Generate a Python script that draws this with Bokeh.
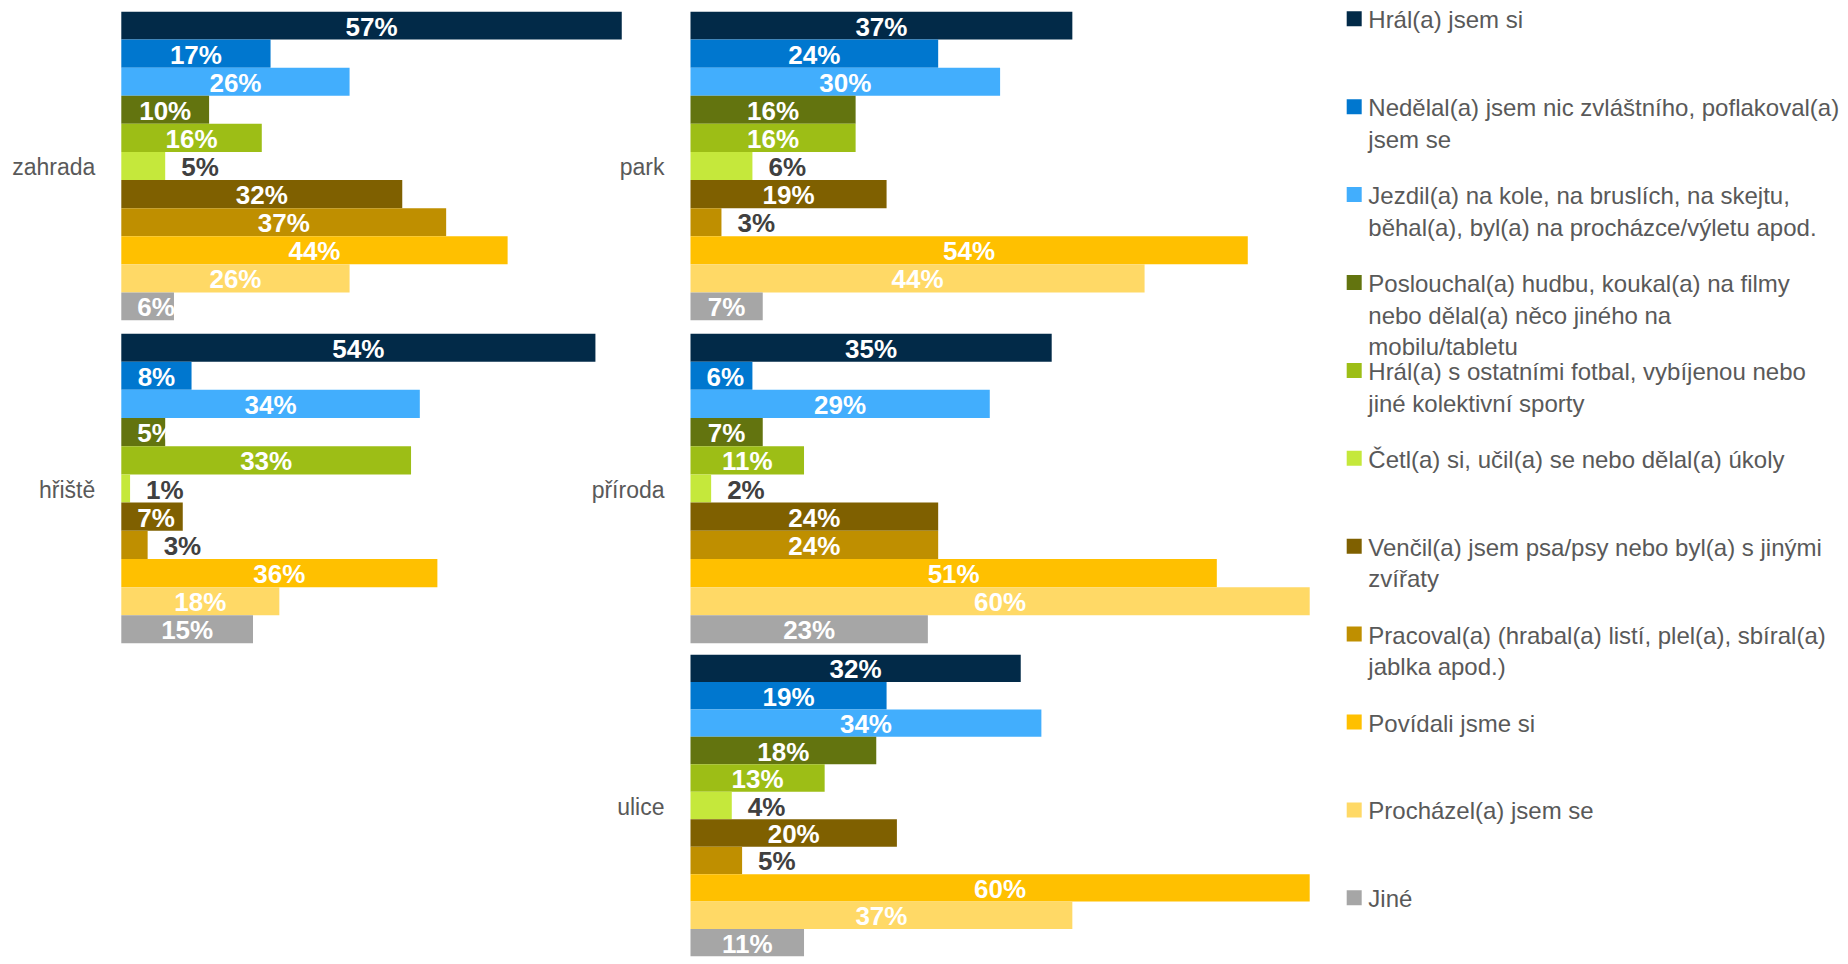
from bokeh.plotting import figure
from bokeh.layouts import row, column
from bokeh.models import ColumnDataSource, Range1d, FactorRange
from bokeh.embed import file_html
from bokeh.resources import INLINE
from bokeh.core.properties import value

# ---------------- data ----------------
activities = [
    "Hrál(a) jsem si",
    "Nedělal(a) jsem nic zvláštního, poflakoval(a)\njsem se",
    "Jezdil(a) na kole, na bruslích, na skejtu,\nběhal(a), byl(a) na procházce/výletu apod.",
    "Poslouchal(a) hudbu, koukal(a) na filmy\nnebo dělal(a) něco jiného na\nmobilu/tabletu",
    "Hrál(a) s ostatními fotbal, vybíjenou nebo\njiné kolektivní sporty",
    "Četl(a) si, učil(a) se nebo dělal(a) úkoly",
    "Venčil(a) jsem psa/psy nebo byl(a) s jinými\nzvířaty",
    "Pracoval(a) (hrabal(a) listí, plel(a), sbíral(a)\njablka apod.)",
    "Povídali jsme si",
    "Procházel(a) jsem se",
    "Jiné",
]
colors = ["#022A48", "#0077CF", "#42AEFD", "#63740F", "#9DBE16", "#C5E83B",
          "#7F6000", "#BF8F00", "#FFC000", "#FFD966", "#A6A6A6"]

places = ["zahrada", "hřiště", "park", "příroda", "ulice"]
zahrada = [57, 17, 26, 10, 16, 5, 32, 37, 44, 26, 6]
hriste = [54, 8, 34, 5, 33, 1, 7, 3, 36, 18, 15]
park = [37, 24, 30, 16, 16, 6, 19, 3, 54, 44, 7]
priroda = [35, 6, 29, 7, 11, 2, 24, 24, 51, 60, 23]
ulice = [32, 19, 34, 18, 13, 4, 20, 5, 60, 37, 11]

# series whose small values are labelled outside the bar end
outside_series = [activities[5], activities[7]]
outside_below = 10

FONT = "Liberation Sans"
GRAY = "#595959"
DARK = "#404040"
NUM_SIZE = 26

ROW_W = 1330
LEFT_START, LEFT_SCALE = 120.8, 8.78     # px of bar origin, px per percent
RIGHT_START, RIGHT_SCALE = 690.0, 10.32


def label_width(lbl):
    return NUM_SIZE * (0.556 * (len(lbl) - 1) + 0.889)


def draw_panel(p, place, vals, scale, range_name):
    kw = {} if range_name is None else {"x_range_name": range_name}
    src = ColumnDataSource(dict(y=activities, v=vals, c=colors))
    p.hbar(y="y", left=0, right="v", height=1.0, fill_color="c", line_color=None,
           source=src, **kw)
    ins = dict(x=[], y=[], t=[])
    out = dict(x=[], y=[], t=[])
    for a, v in zip(activities, vals):
        lbl = f"{v}%"
        if a in outside_series and v < outside_below:
            out["x"].append(v); out["y"].append(a); out["t"].append(lbl)
        else:
            ins["x"].append(max(v / 2, (16 + label_width(lbl) / 2) / scale))
            ins["y"].append(a); ins["t"].append(lbl)
    p.text(x="x", y="y", text="t", source=ColumnDataSource(ins), text_align="center",
           text_baseline="middle", y_offset=1, text_color="white",
           text_font=value(FONT), text_font_style="bold", text_font_size=f"{NUM_SIZE}px", **kw)
    p.text(x="x", y="y", text="t", source=ColumnDataSource(out), text_align="left",
           text_baseline="middle", x_offset=16, y_offset=1, text_color=DARK,
           text_font=value(FONT), text_font_style="bold", text_font_size=f"{NUM_SIZE}px", **kw)
    p.text(x=[0], y=[activities[5]], text=[place], text_align="right", text_baseline="middle",
           x_offset=-26, y_offset=1, text_color=GRAY, text_font=value(FONT),
           text_font_size="23px", **kw)


def row_figure(height, top, bottom, left_panel, right_panel):
    p = figure(width=ROW_W, height=height, output_backend="svg", toolbar_location=None,
               x_range=Range1d(-LEFT_START / LEFT_SCALE, (ROW_W - LEFT_START) / LEFT_SCALE),
               y_range=FactorRange(factors=list(reversed(activities)), range_padding=0),
               x_axis_location=None, y_axis_location=None,
               min_border_left=0, min_border_right=0,
               min_border_top=top, min_border_bottom=bottom)
    p.extra_x_ranges = {"right": Range1d(-RIGHT_START / RIGHT_SCALE,
                                         (ROW_W - RIGHT_START) / RIGHT_SCALE)}
    p.outline_line_color = None
    p.xgrid.visible = False
    p.ygrid.visible = False
    p.background_fill_color = "white"
    p.border_fill_color = "white"
    if left_panel is not None:
        draw_panel(p, left_panel[0], left_panel[1], LEFT_SCALE, None)
    if right_panel is not None:
        draw_panel(p, right_panel[0], right_panel[1], RIGHT_SCALE, "right")
    return p


r1 = row_figure(327, 11, 7, (places[0], zahrada), (places[2], park))
r2 = row_figure(321, 6, 5, (places[1], hriste), (places[3], priroda))
r3 = row_figure(316, 6, 8, None, (places[4], ulice))

# ---------------- legend ----------------
LW, LH = 1848 - ROW_W, 964
leg = figure(width=LW, height=LH, output_backend="svg", toolbar_location=None,
             x_range=Range1d(0, LW), y_range=Range1d(LH, 0),
             x_axis_location=None, y_axis_location=None, min_border=0)
leg.outline_line_color = None
leg.xgrid.visible = False
leg.ygrid.visible = False

item_y0, item_step, line_step = 18.3, 87.9, 31.7
sq = dict(x=[], y=[], c=[])
tx = dict(x=[], y=[], t=[])
for i, (a, c) in enumerate(zip(activities, colors)):
    y = item_y0 + i * item_step
    sq["x"].append(23.7); sq["y"].append(y); sq["c"].append(c)
    for j, line in enumerate(a.split("\n")):
        tx["x"].append(37.8); tx["y"].append(y + j * line_step); tx["t"].append(line)
leg.scatter(x="x", y="y", marker="square", size=15, fill_color="c", line_color=None,
            source=ColumnDataSource(sq))
leg.text(x="x", y="y", text="t", source=ColumnDataSource(tx), text_align="left",
         text_baseline="middle", y_offset=1, text_color=GRAY, text_font=value(FONT),
         text_font_size="24px")

page = row(column(r1, r2, r3), leg)
open("out.html", "w").write(file_html(page, INLINE))
